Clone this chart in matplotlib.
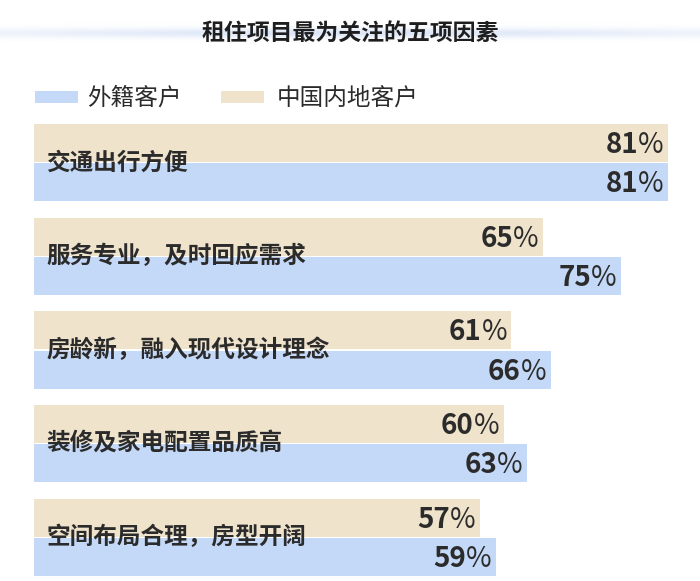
import numpy as np
import matplotlib.pyplot as plt

plt.rcParams['font.family'] = ['Noto Sans CJK SC', 'DejaVu Sans']

# =========================
# Data
# =========================
title = "租住项目最为关注的五项因素"
categories = ["交通出行方便", "服务专业，及时回应需求", "房龄新，融入现代设计理念",
              "装修及家电配置品质高", "空间布局合理，房型开阔"]
series_names = ["外籍客户", "中国内地客户"]
foreign = [81, 75, 66, 63, 59]
mainland = [81, 65, 61, 60, 57]

blue = "#c4d8f7"
tan = "#efe3cc"
text_color = "#2b2b2b"

W, H = 700, 581
fig = plt.figure(figsize=(W / 100, H / 100), dpi=100)

# faint glow band behind the title
glow = fig.add_axes([0, 1 - 44 / H, 1, 22 / H])
yy = np.linspace(-1, 1, 50)[:, None]
xx = np.linspace(-1, 1, 400)[None, :]
alpha = np.exp(-(yy / 0.45) ** 2) * (0.25 + 0.75 * np.exp(-(xx / 0.9) ** 2))
band = np.zeros((50, 400, 4))
band[..., 0], band[..., 1], band[..., 2] = 0.80, 0.86, 0.96
band[..., 3] = alpha * 0.7
glow.imshow(band, aspect="auto", extent=[0, 1, 0, 1])
glow.axis("off")

fig.text(0.5, 1 - 33 / H, title, ha="center", va="center",
         fontsize=16.5, fontweight="heavy", color="#1e1e1e")

# =========================
# Legend (manual)
# =========================
leg = fig.add_axes([0, 0, 1, 1], facecolor="none")
leg.set_xlim(0, W)
leg.set_ylim(H, 0)
leg.axis("off")
leg.add_patch(plt.Rectangle((35, 91), 43, 12, color=blue, lw=0))
leg.text(87, 98, series_names[0], va="center", ha="left", fontsize=17, color=text_color)
leg.add_patch(plt.Rectangle((221, 91), 43, 12, color=tan, lw=0))
leg.text(277, 98, series_names[1], va="center", ha="left", fontsize=17, color=text_color)

# =========================
# Bars
# =========================
ax = fig.add_axes([34 / W, 5 / H, (668 - 34) / W, (576 - 124) / H])
pos = np.arange(len(categories))
h = 0.405
off = 0.21

ax.barh(pos - off, mainland, height=h, color=tan, lw=0)
ax.barh(pos + off, foreign, height=h, color=blue, lw=0)

ax.set_xlim(0, 81)
ax.set_ylim(len(categories) - 1 + off + h / 2, -off - h / 2)
ax.axis("off")

renderer = fig.canvas.get_renderer()


def value_label(v, y):
    # bold digits, thin percent sign, right aligned inside the bar end
    pct = ax.annotate("%", (v, y), xytext=(-3, -7.3), textcoords="offset points",
                      ha="right", va="baseline", fontsize=20, fontweight="normal",
                      color=text_color)
    w = pct.get_window_extent(renderer).width * 72 / fig.dpi
    ax.annotate(str(v), (v, y), xytext=(-3 - w, -7.3), textcoords="offset points",
                ha="right", va="baseline", fontsize=20, fontweight="bold",
                color=text_color)


for i, cat in enumerate(categories):
    ax.annotate(cat, (0, i), xytext=(9, 0), textcoords="offset points",
                ha="left", va="center", fontsize=17, fontweight="heavy", color=text_color)
    value_label(mainland[i], i - off)
    value_label(foreign[i], i + off)

fig.savefig("out.png", dpi=100)
